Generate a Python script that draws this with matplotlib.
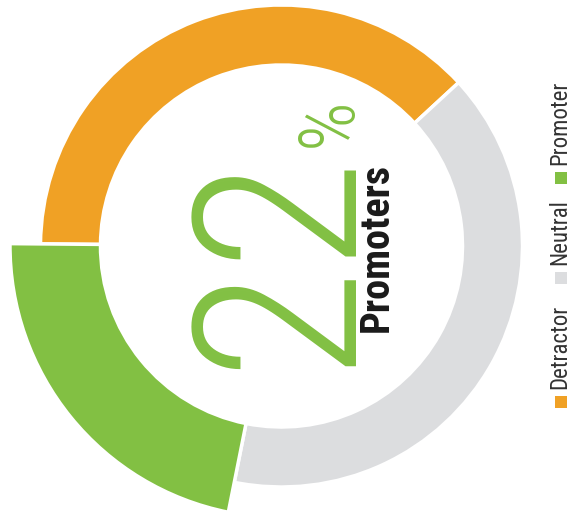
import matplotlib.pyplot as plt

# NPS donut, drawn rotated like the original
labels = ['Detractor', 'Neutral', 'Promoter']
values = [38, 40, 22]
colors = ['#F0A125', '#DCDDDF', '#82C043']
headline = '22'
headline_label = 'Promoters'

narrow = ['Roboto Condensed', 'DejaVu Sans Condensed', 'Roboto', 'DejaVu Sans']

fig = plt.figure(figsize=(5.72, 5.17), dpi=100)
ax = fig.add_axes([0, 0, 1, 1])

# pixel-like data space (y up), ring centre
cx, cy = 281.5, 271
r_out, r_in = 241, 181
wedges, _ = ax.pie(values, colors=colors, startangle=179.5, counterclock=False,
                   radius=r_out, center=(cx, cy),
                   wedgeprops=dict(width=r_out - r_in, edgecolor='white', linewidth=2.5))

# promoter slice sticks out further
big = 271.5
wedges[2].set_radius(big)
wedges[2].set_width(big - r_in)

ax.set_xlim(0, 572)
ax.set_ylim(0, 517)
ax.set_aspect('equal')
ax.axis('off')

ax.text(345, 517 - 258, headline, rotation=90, rotation_mode='anchor', ha='center',
        va='baseline', fontsize=164, fontweight='light', color=colors[2], family=narrow)
ax.text(351, 517 - 122, '%', rotation=90, rotation_mode='anchor', ha='center',
        va='baseline', fontsize=56, fontweight='light', color=colors[2], family=narrow)
ax.text(388, 517 - 247, headline_label, rotation=90, rotation_mode='anchor', ha='center',
        va='baseline', fontsize=29, fontweight='bold', color='#1a1a1a', family=narrow)

# vertical legend on the right
sq_y = [402, 278, 178]
for lab, col, y in zip(labels, colors, sq_y):
    ax.scatter([561], [517 - y], marker='s', s=70, color=col, linewidths=0)
    ax.text(566, 517 - y + 13, lab, rotation=90, rotation_mode='anchor', ha='left',
            va='baseline', fontsize=16.5, color='#333333', family=narrow)

fig.savefig('out.png', dpi=100)
